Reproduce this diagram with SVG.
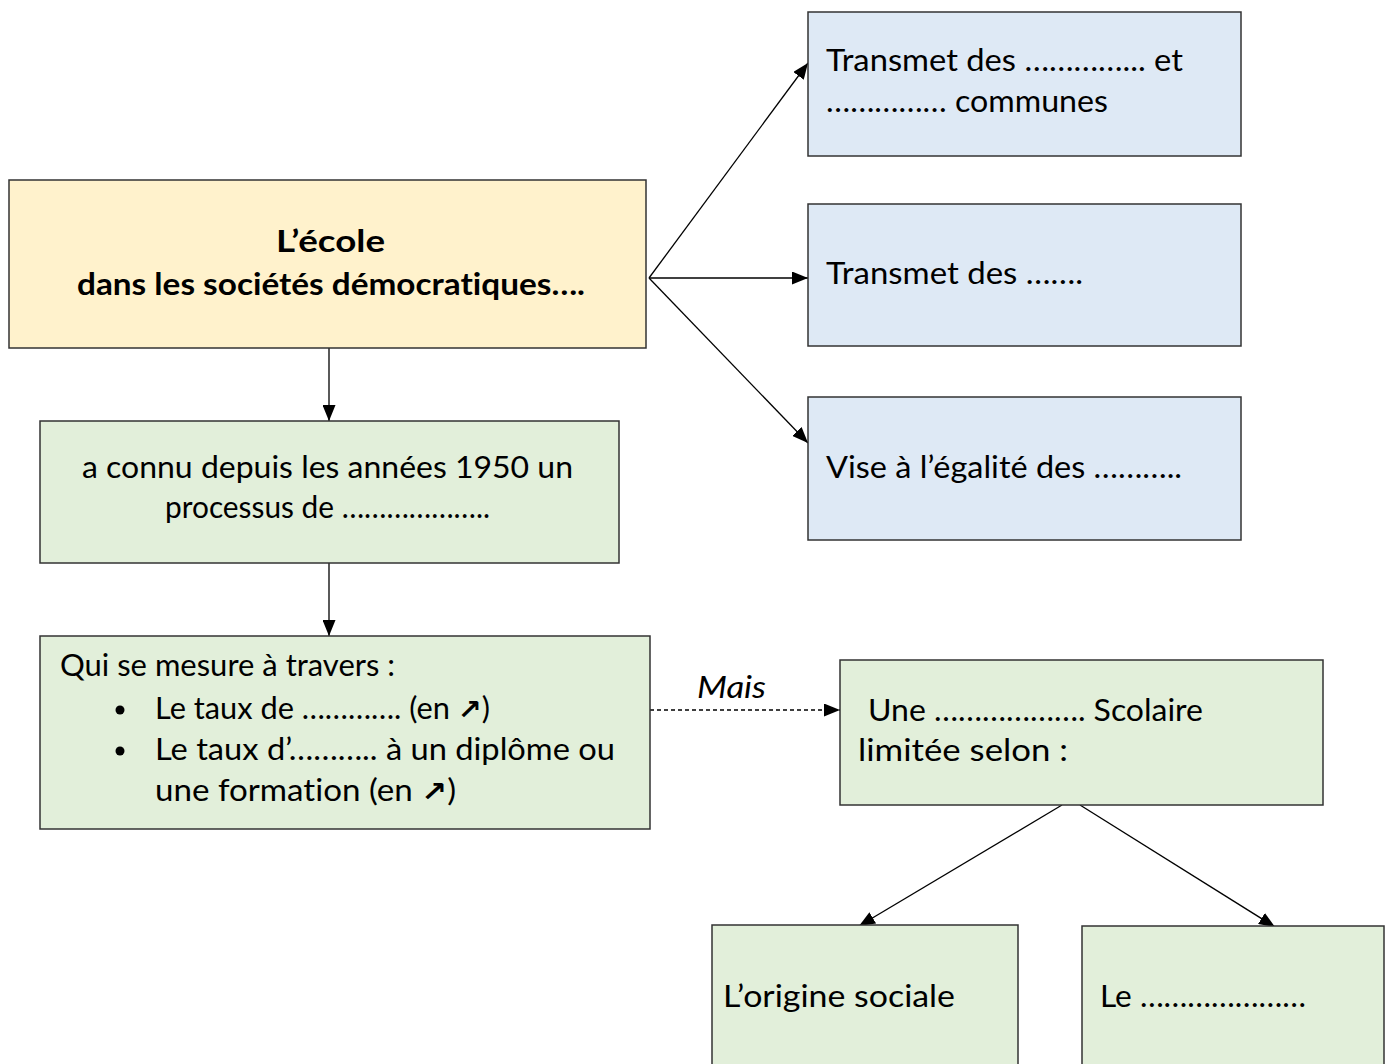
<svg xmlns="http://www.w3.org/2000/svg" width="1394" height="1064" viewBox="0 0 1394 1064">
<defs>
<marker id="ah" viewBox="0 0 16 13" refX="16" refY="6.5" markerWidth="16" markerHeight="13" markerUnits="userSpaceOnUse" orient="auto">
<path d="M0,0 L16,6.5 L0,13 z" fill="#000"/>
</marker>
<style>
.box{stroke:#333;stroke-width:1.5}
.y{fill:#fff2cc}
.b{fill:#dee9f5}
.g{fill:#e2efda}
text{font-family:Lato,"Open Sans","Liberation Sans",sans-serif;font-size:30px;fill:#000;font-variant-ligatures:none}
.bold{font-weight:bold}
.con{stroke:#000;stroke-width:1.3;fill:none;marker-end:url(#ah)}
.dash{stroke-dasharray:4,3}
.sym{font-family:"DejaVu Sans",sans-serif;font-weight:bold;font-size:28px}
</style>
</defs>
<rect width="1394" height="1064" fill="#fff"/>
<g id="connectors">
<line class="con" x1="649" y1="278" x2="808" y2="63"/>
<line class="con" x1="649" y1="278" x2="808" y2="278"/>
<line class="con" x1="649" y1="278" x2="808" y2="443"/>
<line class="con" x1="329" y1="348" x2="329" y2="421"/>
<line class="con" x1="329" y1="563" x2="329" y2="636"/>
<line class="con dash" x1="650" y1="710" x2="840" y2="710"/>
<text x="697" y="698" font-style="italic" textLength="69" lengthAdjust="spacingAndGlyphs">Mais</text>
<line class="con" x1="1062" y1="805" x2="859" y2="926"/>
<line class="con" x1="1080" y1="805" x2="1275" y2="927"/>
</g>
<g id="main">
<rect class="box y" x="9" y="180" width="637" height="168"/>
<text x="276" y="252" class="bold" textLength="109" lengthAdjust="spacingAndGlyphs">L’école</text>
<text x="77" y="295" class="bold" textLength="508" lengthAdjust="spacingAndGlyphs">dans les sociétés démocratiques….</text>
</g>
<g id="b1">
<rect class="box b" x="808" y="12" width="433" height="144"/>
<text x="826" y="71" textLength="357" lengthAdjust="spacingAndGlyphs">Transmet des …………... et</text>
<text x="826" y="112" textLength="282" lengthAdjust="spacingAndGlyphs">…………… communes</text>
</g>
<g id="b2">
<rect class="box b" x="808" y="204" width="433" height="142"/>
<text x="826" y="284" textLength="257" lengthAdjust="spacingAndGlyphs">Transmet des …….</text>
</g>
<g id="b3">
<rect class="box b" x="808" y="397" width="433" height="143"/>
<text x="826" y="478" textLength="356" lengthAdjust="spacingAndGlyphs">Vise à l’égalité des ………..</text>
</g>
<g id="g1">
<rect class="box g" x="40" y="421" width="579" height="142"/>
<text x="82" y="478" textLength="491" lengthAdjust="spacingAndGlyphs">a connu depuis les années 1950 un</text>
<text x="165" y="518" textLength="325" lengthAdjust="spacingAndGlyphs">processus de ………………..</text>
</g>
<g id="g2">
<rect class="box g" x="40" y="636" width="610" height="193"/>
<text x="60" y="676" textLength="335" lengthAdjust="spacingAndGlyphs">Qui se mesure à travers :</text>
<circle cx="120" cy="710" r="4.5" fill="#000"/>
<text x="155" y="719" textLength="335" lengthAdjust="spacingAndGlyphs">Le taux de …………. (en <tspan class="sym">↗</tspan>)</text>
<circle cx="120" cy="751" r="4.5" fill="#000"/>
<text x="155" y="760" textLength="460" lengthAdjust="spacingAndGlyphs">Le taux d’……….. à un diplôme ou</text>
<text x="155" y="801" textLength="301" lengthAdjust="spacingAndGlyphs">une formation (en <tspan class="sym">↗</tspan>)</text>
</g>
<g id="g3">
<rect class="box g" x="840" y="660" width="483" height="145"/>
<text x="868" y="721" textLength="335" lengthAdjust="spacingAndGlyphs">Une ………………. Scolaire</text>
<text x="858" y="761" textLength="210" lengthAdjust="spacingAndGlyphs">limitée selon :</text>
</g>
<g id="g4">
<rect class="box g" x="712" y="925" width="306" height="145"/>
<text x="723" y="1007" textLength="232" lengthAdjust="spacingAndGlyphs">L’origine sociale</text>
</g>
<g id="g5">
<rect class="box g" x="1082" y="926" width="302" height="145"/>
<text x="1100" y="1007" textLength="206" lengthAdjust="spacingAndGlyphs">Le …………………</text>
</g>
</svg>
